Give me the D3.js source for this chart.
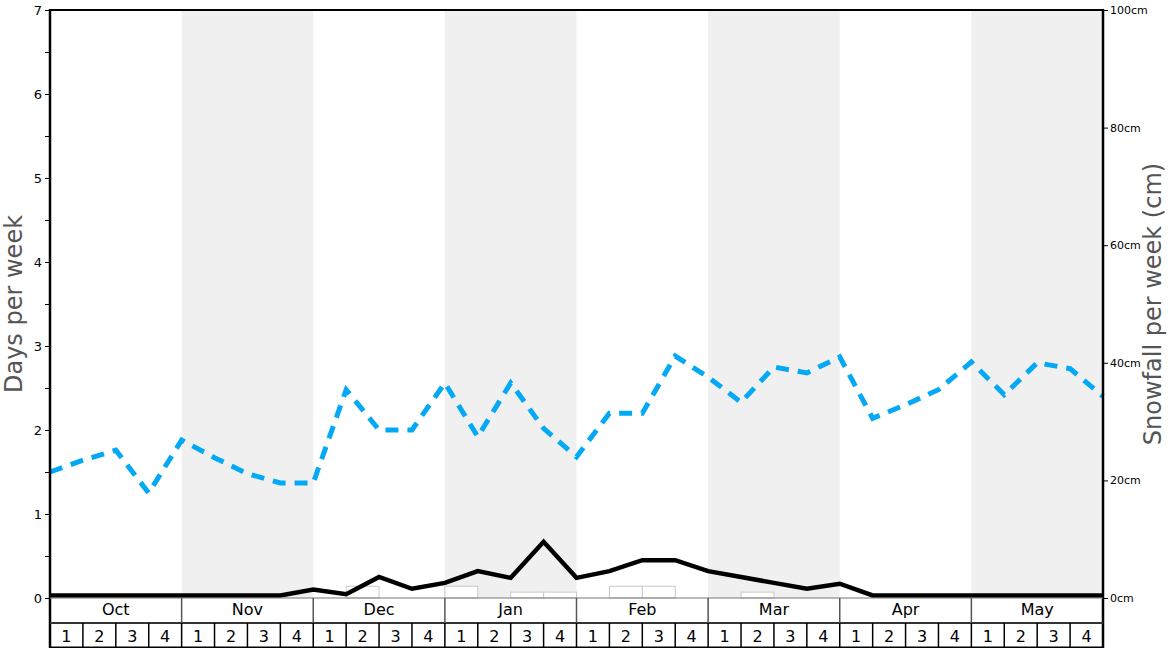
<!DOCTYPE html>
<html><head><meta charset="utf-8">
<script src="https://cdn.jsdelivr.net/npm/d3@7"></script>
<style>body{margin:0;background:#fff;}svg{display:block;font-family:"DejaVu Sans",sans-serif;}</style>
</head><body>
<svg id="c" width="1168" height="648"></svg>
<script>
const months = ["Oct","Nov","Dec","Jan","Feb","Mar","Apr","May"];
const weekLabels = ["1","2","3","4"];
// blue dashed line (days per week), one value per week boundary
const blueDays = [1.5,1.64,1.76,1.25,1.88,1.67,1.48,1.37,1.37,2.48,2.0,2.0,2.56,1.92,2.56,2.02,1.68,2.2,2.2,2.88,2.63,2.33,2.75,2.68,2.87,2.14,2.3,2.48,2.81,2.42,2.8,2.73,2.4];
// black line (days per week)
const blackDays = [0.03,0.03,0.03,0.03,0.03,0.03,0.03,0.03,0.1,0.045,0.25,0.11,0.18,0.32,0.24,0.67,0.24,0.32,0.45,0.45,0.32,0.25,0.18,0.11,0.17,0.03,0.03,0.03,0.03,0.03,0.03,0.03,0.03];
// snowfall bars (cm per week), one per week slot
const snowCm = [0,0,0,0,0,0,0,0,0,2,0,0,2,0,1,1,0,2,2,0,0,1,0,0,0,0,0,0,0,0,0,0];
const leftTicks = [0,1,2,3,4,5,6,7];
const rightTicks = [0,20,40,60,80,100];

const svg = d3.select("#c");
const L = 50, R = 1103, T = 10, B = 598;
const x = d3.scaleLinear().domain([0, 32]).range([L, R]);
const yL = d3.scaleLinear().domain([0, 7]).range([B, T]);
const yR = d3.scaleLinear().domain([0, 100]).range([B, T]);

// shaded months
svg.append("g").selectAll("rect").data(months).join("rect")
  .attr("x", (d,i) => x(i*4)).attr("y", T)
  .attr("width", x(4) - x(0)).attr("height", B - T)
  .attr("fill", (d,i) => i % 2 ? "#f0f0f0" : "none");

// snowfall bars
const barData = snowCm.map((v, i) => ({v, i})).filter(d => d.v > 0);
svg.append("g").selectAll("rect").data(barData).join("rect")
  .attr("x", d => x(d.i)).attr("y", d => yR(d.v))
  .attr("width", d => x(d.i+1) - x(d.i)).attr("height", d => B - yR(d.v))
  .attr("fill", "#fff").attr("stroke", "#c8c8c8").attr("stroke-width", 1);

svg.append("path").datum(blueDays)
  .attr("d", d3.line().x((d,i) => x(i)).y(d => yL(d)))
  .attr("fill", "none").attr("stroke", "#03a9f4").attr("stroke-width", 5)
  .attr("stroke-dasharray", "13,9");
svg.append("path").datum(blackDays)
  .attr("d", d3.line().x((d,i) => x(i)).y(d => yL(d)))
  .attr("fill", "none").attr("stroke", "#000").attr("stroke-width", 4.5)
  .attr("stroke-linejoin", "miter");

// left axis
const la = svg.append("g").attr("transform", `translate(${L},0)`)
  .call(d3.axisLeft(yL).tickValues(leftTicks).tickFormat(d3.format("d")).tickSize(5).tickSizeOuter(0));
la.select(".domain").remove();
la.selectAll("text").attr("font-size", 13).attr("font-family", "DejaVu Sans").attr("fill", "#000");
svg.append("g").attr("transform", `translate(${L},0)`)
  .call(d3.axisLeft(yL).tickValues(d3.range(0.5, 7, 1)).tickFormat("").tickSize(5).tickSizeOuter(0))
  .select(".domain").remove();

// right axis
const ra = svg.append("g").attr("transform", `translate(${R},0)`)
  .call(d3.axisRight(yR).tickValues(rightTicks).tickFormat(d => d + "cm").tickSize(5).tickSizeOuter(0));
ra.select(".domain").remove();
ra.selectAll("text").attr("font-size", 11).attr("font-family", "DejaVu Sans").attr("fill", "#000").attr("x", 7);

// frame
svg.append("line").attr("x1", L).attr("x2", R).attr("y1", T).attr("y2", T).attr("stroke", "#000").attr("stroke-width", 2);
svg.append("line").attr("x1", L).attr("x2", L).attr("y1", T-1).attr("y2", 648).attr("stroke", "#000").attr("stroke-width", 2.5);
svg.append("line").attr("x1", R).attr("x2", R).attr("y1", T-1).attr("y2", 648).attr("stroke", "#000").attr("stroke-width", 2.5);

// month / week rows
const mr = svg.append("g");
mr.append("line").attr("x1", L).attr("x2", R).attr("y1", B).attr("y2", B).attr("stroke", "#777").attr("stroke-width", 1);
mr.append("line").attr("x1", L).attr("x2", R).attr("y1", 623).attr("y2", 623).attr("stroke", "#333").attr("stroke-width", 2);
mr.append("line").attr("x1", L).attr("x2", R).attr("y1", 647.5).attr("y2", 647.5).attr("stroke", "#000").attr("stroke-width", 2);
months.forEach((m, i) => {
  if (i > 0) mr.append("line").attr("x1", x(i*4)).attr("x2", x(i*4)).attr("y1", B).attr("y2", 623).attr("stroke", "#555").attr("stroke-width", 1.5);
  mr.append("text").attr("x", (x(i*4) + x(i*4+4)) / 2).attr("y", 615).attr("text-anchor", "middle")
    .attr("font-size", 16).attr("fill", "#000").text(m);
  weekLabels.forEach((w, j) => {
    const k = i*4 + j;
    if (k > 0) mr.append("line").attr("x1", x(k)).attr("x2", x(k)).attr("y1", 623).attr("y2", 648).attr("stroke", "#000").attr("stroke-width", 1.5);
    mr.append("text").attr("x", (x(k) + x(k+1)) / 2).attr("y", 642).attr("text-anchor", "middle")
      .attr("font-size", 16).attr("fill", "#000").text(w);
  });
});

// axis titles
svg.append("text").attr("transform", `translate(22,${(T+B)/2}) rotate(-90)`).attr("text-anchor", "middle")
  .attr("font-size", 24).attr("fill", "#555").text("Days per week");
svg.append("text").attr("transform", `translate(1161,${(T+B)/2}) rotate(-90)`).attr("text-anchor", "middle")
  .attr("font-size", 24).attr("fill", "#555").text("Snowfall per week (cm)");
</script>
</body></html>
